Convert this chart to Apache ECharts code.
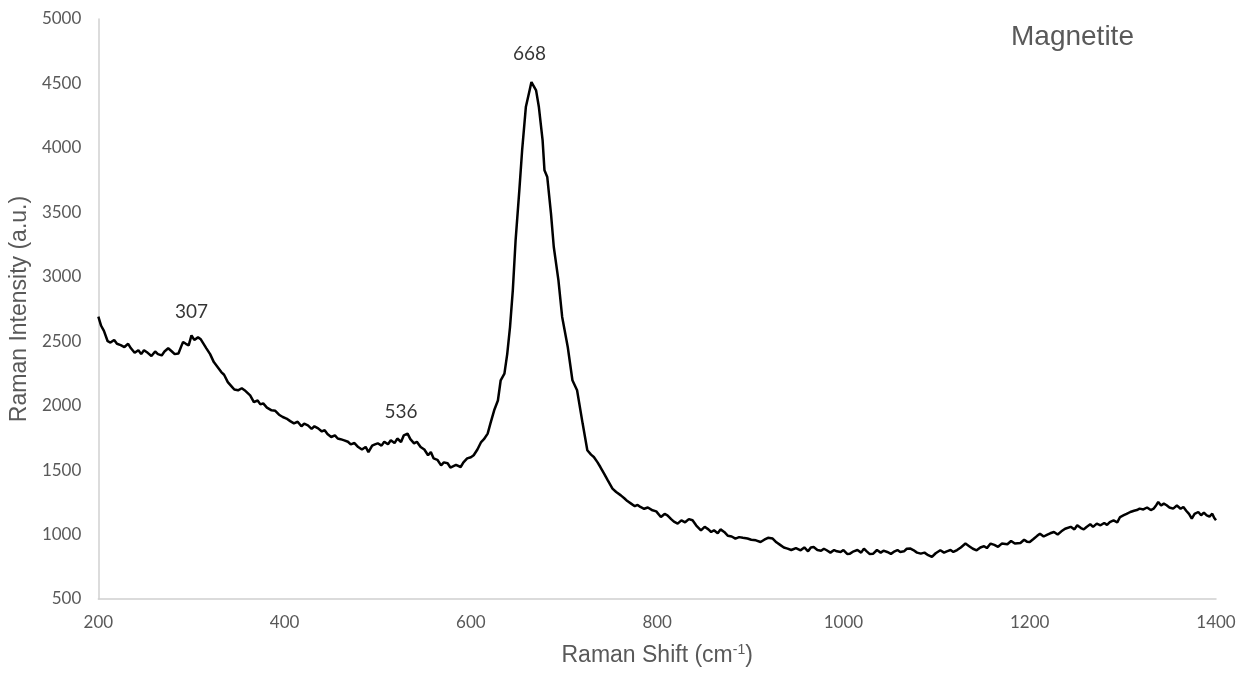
<!DOCTYPE html>
<html>
<head>
<meta charset="utf-8">
<script src="https://cdn.jsdelivr.net/npm/echarts@6/dist/echarts.min.js"></script>
<style>
html,body{margin:0;padding:0;background:#fff;}
#chart{width:1248px;height:675px;}
</style>
</head>
<body>
<div id="chart"></div>
<script>
// Raman spectrum of magnetite: [Raman shift (cm-1), intensity (a.u.)]
const spectrum = [
[200,2690],[203,2620],[206,2580],[210,2500],[213,2490],[217,2510],[220,2480],[224,2470],[228,2455],[232,2480],
[235,2445],[239,2410],[243,2430],[246,2400],[249,2430],[253,2410],[257,2385],[261,2420],[264,2400],[268,2390],
[271,2420],[275,2445],[279,2420],[282,2400],[286,2405],[289,2460],[291,2494],[294,2480],[297,2468],[300,2546],
[303,2510],[307,2530],[310,2515],[313,2480],[316,2445],[320,2400],[324,2338],[328,2300],[332,2261],[335,2240],
[339,2183],[343,2150],[346,2125],[350,2119],[354,2135],[357,2120],[359,2134],[363,2080],[367,2028],[371,2040],
[374,2010],[377,2018],[381,1985],[386,1964],[390,1960],[394,1930],[398,1912],[402,1900],[406,1880],[410,1863],
[414,1875],[418,1840],[421,1860],[425,1847],[429,1820],[432,1840],[436,1824],[440,1800],[443,1810],[446,1780],
[450,1757],[454,1770],[457,1745],[460,1740],[464,1731],[468,1720],[471,1700],[475,1710],[479,1679],[483,1660],
[487,1680],[490,1640],[494,1690],[497,1700],[500,1708],[504,1690],[507,1720],[511,1700],[514,1731],[518,1710],
[521,1745],[525,1718],[528,1770],[532,1783],[535,1740],[539,1708],[542,1720],[546,1679],[550,1660],[554,1615],
[557,1640],[560,1591],[564,1580],[568,1537],[571,1560],[575,1553],[578,1520],[580,1506],[584,1540],[589,1524],
[592,1560],[596,1591],[600,1600],[603,1615],[607,1660],[611,1718],[614,1740],[618,1783],[621,1863],[625,1964],
[629,2040],[632,2197],[636,2249],[639,2400],[642,2610],[645,2895],[648,3283],[652,3671],[655,3980],[659,4317],
[663,4446],[665,4511],[667,4500],[670,4446],[673,4317],[677,4058],[679,3826],[682,3774],[686,3490],[689,3231],
[694,2972],[698,2688],[704,2455],[709,2197],[714,2119],[720,1861],[725,1654],[729,1620],[732,1602],[736,1560],
[739,1524],[743,1473],[747,1420],[752,1356],[756,1330],[761,1304],[765,1280],[768,1260],[772,1240],[776,1220],
[779,1230],[782,1214],[786,1200],[790,1210],[795,1188],[799,1180],[804,1136],[808,1160],[811,1149],[815,1120],
[818,1100],[822,1085],[826,1110],[830,1095],[834,1120],[838,1111],[842,1070],[847,1033],[851,1060],[855,1040],
[858,1020],[861,1033],[865,1010],[868,1040],[872,1020],[876,990],[880,985],[884,969],[888,980],[892,975],
[897,969],[901,960],[906,955],[911,942],[915,960],[919,975],[924,969],[928,940],[932,920],[936,900],
[940,891],[944,880],[949,895],[954,878],[958,900],[962,870],[965,900],[968,903],[972,880],[976,875],
[979,890],[982,878],[986,860],[990,880],[993,870],[997,865],[1000,880],[1004,850],[1007,852],[1011,870],
[1015,880],[1019,860],[1022,891],[1025,870],[1028,850],[1032,852],[1036,880],[1040,860],[1043,875],[1047,865],
[1051,850],[1055,870],[1058,880],[1061,865],[1065,870],[1068,890],[1072,891],[1075,880],[1079,860],[1083,852],
[1087,860],[1091,840],[1095,826],[1099,855],[1104,878],[1108,860],[1111,870],[1115,880],[1118,865],[1122,880],
[1126,900],[1131,930],[1135,910],[1139,890],[1143,878],[1147,900],[1151,910],[1154,895],[1158,930],[1162,920],
[1166,905],[1170,930],[1172,942],[1176,925],[1180,950],[1184,930],[1186,942],[1190,935],[1194,960],[1197,945],
[1200,942],[1204,965],[1208,990],[1211,1007],[1215,985],[1219,1000],[1222,1010],[1226,1020],[1230,1000],[1234,1025],
[1238,1045],[1240,1033],[1244,1060],[1248,1040],[1251,1072],[1255,1050],[1258,1040],[1261,1059],[1265,1080],[1268,1060],
[1272,1085],[1276,1072],[1280,1090],[1283,1075],[1286,1097],[1290,1110],[1294,1095],[1297,1136],[1301,1150],[1304,1160],
[1308,1175],[1312,1185],[1315,1190],[1318,1201],[1322,1195],[1326,1210],[1330,1190],[1333,1201],[1336,1230],[1338,1253],
[1341,1225],[1344,1240],[1347,1227],[1350,1210],[1354,1201],[1358,1225],[1362,1200],[1365,1214],[1368,1185],[1371,1160],
[1374,1124],[1377,1160],[1381,1175],[1384,1150],[1387,1170],[1390,1149],[1393,1140],[1396,1162],[1398,1130],[1400,1111]
];
// Peak annotations
const peakLabels = ['307', '536', '668'];
const peakLabelShift = [300, 525, 663];
const peakLabelIntensity = [2724, 1948, 4726];

const xTicks = {min: 200, max: 1400, interval: 200};
const yTicks = {min: 500, max: 5000, interval: 500};
const sampleName = 'Magnetite';

const chart = echarts.init(document.getElementById('chart'), null, {renderer: 'canvas'});
const gray = '#595959';
chart.setOption({
  backgroundColor: '#ffffff',
  animation: false,
  title: {
    text: sampleName,
    left: 1006, top: 18,
    textStyle: {fontFamily: 'Liberation Sans', fontSize: 28, fontWeight: 'normal', color: gray}
  },
  grid: {left: 97, right: 32, top: 19, bottom: 76, containLabel: false},
  xAxis: {
    type: 'value', min: xTicks.min, max: xTicks.max, interval: xTicks.interval,
    name: '{a|Raman Shift (cm}{s|-1}{a|)}',
    nameLocation: 'middle', nameGap: 44,
    nameTextStyle: {
      rich: {
        a: {fontFamily: 'Liberation Sans', fontSize: 23, color: gray, lineHeight: 26},
        s: {fontFamily: 'Liberation Sans', fontSize: 14, color: gray, lineHeight: 14, verticalAlign: 'top'}
      }
    },
    axisLine: {show: true, lineStyle: {color: '#d0d0d0', width: 1.5}},
    axisTick: {show: false},
    splitLine: {show: false},
    axisLabel: {fontFamily: 'Lato', fontSize: 17, color: gray, margin: 15, formatter: v => String(v)}
  },
  yAxis: {
    type: 'value', min: yTicks.min, max: yTicks.max, interval: yTicks.interval,
    name: 'Raman Intensity (a.u.)',
    nameLocation: 'middle', nameGap: 55,
    nameTextStyle: {fontFamily: 'Liberation Sans', fontSize: 23, color: gray},
    axisLine: {show: true, lineStyle: {color: '#d0d0d0', width: 1.5}},
    axisTick: {show: false},
    splitLine: {show: false},
    axisLabel: {fontFamily: 'Lato', fontSize: 17, color: gray, margin: 17, formatter: v => String(v)}
  },
  series: [
    {
      type: 'line',
      data: spectrum,
      showSymbol: false,
      symbol: 'none',
      smooth: false,
      lineStyle: {color: '#000000', width: 2.5},
      z: 3
    },
    {
      type: 'scatter',
      symbolSize: 0,
      data: peakLabels.map((t, i) => ({value: [peakLabelShift[i], peakLabelIntensity[i]], name: t})),
      label: {
        show: true, position: 'inside',
        formatter: p => p.name,
        fontFamily: 'Lato', fontSize: 19, color: '#000000'
      },
      silent: true,
      z: 4
    }
  ]
});
</script>
</body>
</html>
